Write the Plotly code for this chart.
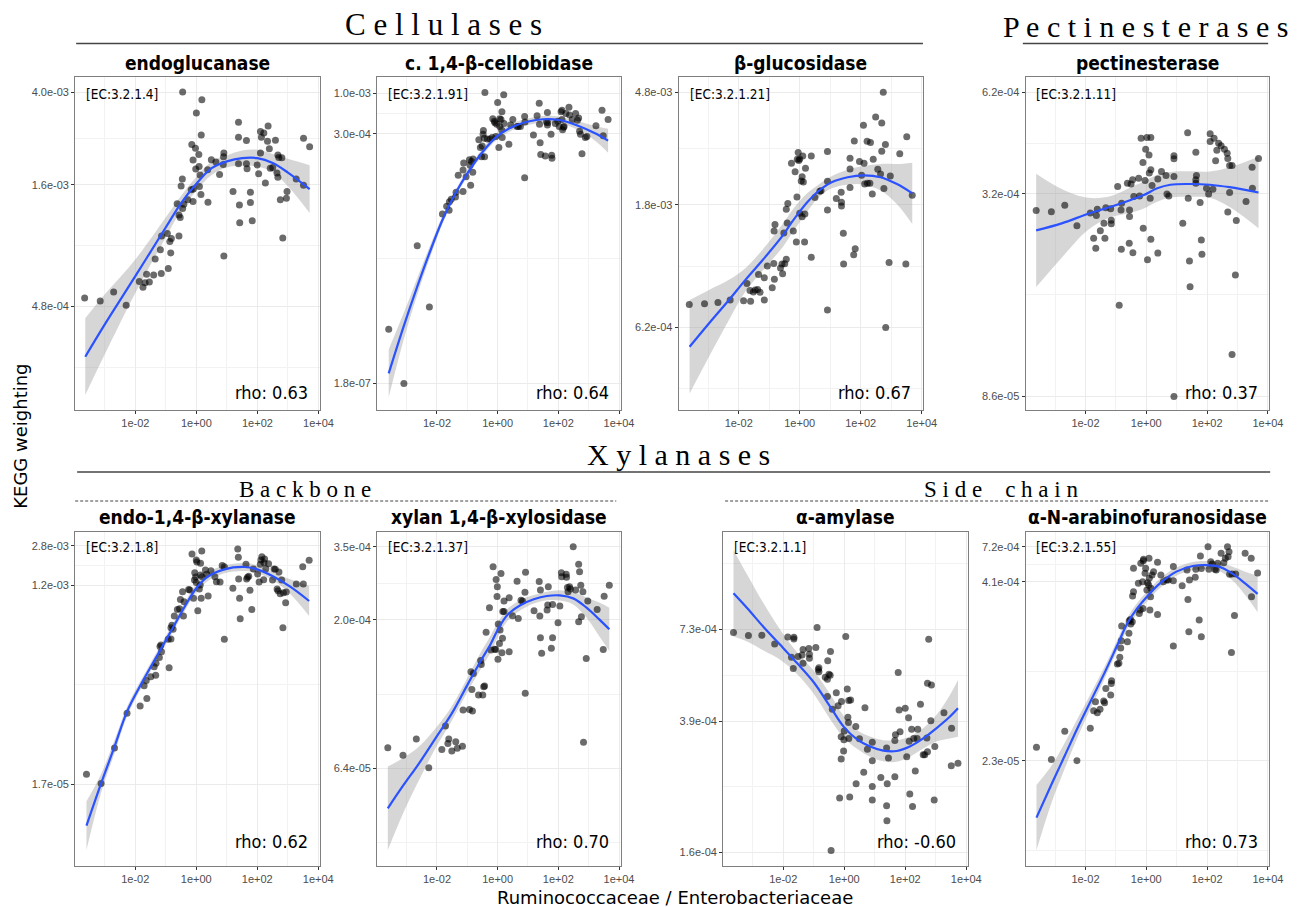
import math
import plotly.graph_objects as go

W, H = 1298, 907

# ------------------------------------------------------------------
# DATA  (x = log10 Ruminococcaceae/Enterobacteriaceae, y = log10 KEGG weighting)
# ------------------------------------------------------------------
x_ticks = [1e-2, 1e0, 1e2, 1e4]
x_ticktext = ["1e-02", "1e+00", "1e+02", "1e+04"]

# --- endoglucanase
endo_x = [-3.66,-3.15,-2.71,-2.30,-1.87,-1.75,-1.68,-1.54,-1.63,-1.40,-1.15,-1.35,-1.18,-0.92,-0.84,-1.14,-0.95,-0.87,-0.82,-0.57,-0.63,-0.57,-0.53,-0.45,-0.41,-0.50,-0.46,-0.28,-0.17,-0.11,-0.10,-0.15,-0.11,-0.03,0.00,0.16,0.18,-0.45,-0.02,0.08,0.09,0.12,0.10,0.15,0.38,0.37,0.49,0.64,0.76,0.88,0.89,0.90,0.90,1.20,1.38,1.38,1.41,1.42,1.38,1.64,1.64,1.66,1.77,1.77,1.83,1.99,2.04,2.10,2.10,2.13,2.21,2.26,2.35,2.33,2.39,2.42,2.50,2.59,2.67,2.70,2.80,2.64,2.67,2.75,2.95,2.97,2.83,3.27,3.51,3.51,3.71]
endo_y = [-3.283,-3.296,-3.257,-3.314,-3.212,-3.237,-3.217,-3.214,-3.181,-3.184,-3.178,-3.115,-3.076,-3.156,-3.089,-3.016,-3.006,-3.040,-3.027,-3.016,-2.878,-2.926,-2.937,-2.898,-2.880,-2.802,-2.772,-2.861,-2.818,-2.868,-2.815,-2.623,-2.690,-2.639,-2.488,-2.582,-2.431,-2.398,-2.729,-2.666,-2.718,-2.754,-2.804,-2.838,-2.871,-2.732,-2.689,-2.698,-2.752,-2.709,-2.676,-2.660,-3.102,-2.825,-2.528,-2.592,-2.883,-2.960,-2.706,-2.606,-2.706,-2.728,-2.828,-2.873,-2.951,-2.711,-2.749,-2.660,-2.567,-2.592,-2.574,-2.789,-2.544,-2.609,-2.642,-2.725,-2.722,-2.605,-2.668,-2.679,-2.680,-2.746,-2.764,-2.861,-2.854,-2.825,-3.025,-2.772,-2.798,-2.596,-2.633]
endo_fit_x = [-3.64,-3.0,-2.0,-1.0,-0.5,0.0,0.5,1.0,1.5,2.0,2.5,3.0,3.71]
endo_fit_y = [-3.535,-3.396,-3.189,-2.979,-2.875,-2.792,-2.725,-2.696,-2.682,-2.682,-2.703,-2.744,-2.815]
endo_fit_se = [0.165,0.129,0.072,0.043,0.032,0.029,0.029,0.026,0.033,0.036,0.039,0.059,0.103]
endo_yticks = [4.0e-3, 1.6e-3, 4.8e-4]

# --- c. 1,4-beta-cellobidase
cello_x = [-3.59,-3.09,-2.65,-2.25,-1.82,-1.68,-1.60,-1.59,-1.53,-1.39,-1.37,-1.30,-1.14,-1.14,-1.12,-1.04,-0.93,-0.91,-0.89,-0.86,-0.82,-0.81,-0.62,-0.57,-0.53,-0.51,-0.48,-0.47,-0.44,-0.43,-0.42,-0.34,-0.25,-0.18,-0.16,-0.11,-0.09,-0.06,-0.03,0.00,0.04,0.07,0.07,0.11,0.13,0.14,0.15,0.20,0.21,0.37,0.43,0.50,0.64,0.68,0.75,0.89,0.89,0.90,1.18,1.30,1.37,1.38,1.40,1.42,1.57,1.61,1.64,1.64,1.65,1.76,1.78,1.79,1.90,1.98,2.03,2.09,2.12,2.12,2.14,2.17,2.19,2.25,2.35,2.37,2.46,2.57,2.63,2.67,2.70,2.73,2.78,2.89,2.94,3.24,3.44,3.48,3.64]
cello_y = [-6.05,-6.75,-4.97,-5.76,-4.56,-4.46,-4.51,-4.40,-4.37,-4.34,-4.28,-4.06,-4.27,-3.99,-3.90,-4.08,-3.86,-3.93,-4.19,-3.88,-4.02,-3.85,-3.60,-3.70,-3.82,-3.68,-3.53,-3.48,-3.58,-3.82,-2.99,-3.59,-3.59,-3.57,-3.33,-3.36,-3.38,-3.56,-3.40,-3.12,-3.70,-3.33,-3.43,-3.34,-3.47,-3.24,-3.57,-3.02,-3.39,-3.66,-3.41,-3.34,-3.43,-3.43,-3.43,-4.09,-3.30,-3.37,-3.54,-3.29,-3.13,-3.40,-3.64,-3.79,-3.81,-3.37,-3.25,-3.41,-3.38,-3.53,-3.80,-3.84,-3.39,-3.36,-3.43,-3.24,-3.22,-3.34,-3.47,-3.44,-3.43,-3.26,-3.18,-3.28,-3.34,-3.26,-3.35,-3.32,-3.49,-3.53,-3.78,-3.57,-3.56,-3.42,-3.22,-3.55,-3.34]
cello_fit_x = [-3.59,-3.10,-2.65,-2.25,-1.82,-1.39,-0.96,-0.53,0.00,0.64,1.50,2.03,2.67,3.21,3.64]
cello_fit_y = [-6.618,-6.015,-5.498,-5.067,-4.637,-4.292,-4.012,-3.775,-3.551,-3.409,-3.336,-3.345,-3.422,-3.517,-3.612]
cello_fit_se = [0.31,0.172,0.108,0.078,0.052,0.043,0.043,0.043,0.043,0.043,0.043,0.043,0.056,0.095,0.155]
cello_yticks = [1.0e-3, 3.0e-4, 1.8e-7]

# --- beta-glucosidase
bglu_x = [-3.62,-3.12,-2.68,-2.28,-1.84,-1.73,-1.63,-1.61,-1.52,-1.46,-1.38,-1.35,-1.30,-1.16,-1.16,-1.06,-0.90,-0.85,-0.83,-0.84,-0.81,-0.63,-0.58,-0.56,-0.52,-0.49,-0.44,-0.44,-0.41,-0.39,-0.27,-0.21,-0.15,-0.11,-0.09,-0.08,-0.05,-0.03,0.00,0.00,0.05,0.08,0.10,0.12,0.16,0.17,0.19,0.08,0.38,0.38,0.50,0.66,0.70,0.91,0.91,0.91,0.91,1.20,1.36,1.37,1.37,1.43,1.44,1.65,1.65,1.65,1.77,1.79,1.82,1.96,2.03,2.09,2.11,2.13,2.21,2.22,2.30,2.32,2.38,2.41,2.49,2.56,2.65,2.69,2.69,2.74,2.76,2.81,2.82,2.93,2.97,3.28,3.48,3.51,3.69]
bglu_y = [-3.121,-3.118,-3.114,-3.104,-3.107,-3.042,-3.068,-3.109,-3.074,-3.066,-3.064,-3.008,-3.075,-3.104,-3.020,-2.976,-3.058,-2.966,-3.026,-2.843,-2.819,-2.983,-2.968,-3.005,-2.851,-2.967,-2.950,-2.761,-2.813,-2.739,-2.587,-2.843,-2.619,-2.885,-2.715,-2.572,-2.547,-2.577,-2.571,-2.776,-2.654,-2.638,-2.560,-2.658,-2.885,-2.779,-2.606,-2.789,-2.560,-2.943,-2.717,-2.693,-2.691,-2.543,-2.764,-2.655,-3.142,-2.720,-2.697,-2.735,-2.749,-2.852,-2.968,-2.609,-2.679,-2.568,-2.933,-2.503,-2.910,-2.581,-2.633,-2.444,-2.587,-2.666,-2.504,-2.663,-2.663,-2.509,-2.703,-2.572,-2.412,-2.610,-2.628,-2.435,-2.542,-2.319,-2.683,-2.516,-3.208,-2.962,-2.635,-2.551,-2.968,-2.487,-2.708]
bglu_fit_x = [-3.61,-2.97,-2.32,-1.78,-1.14,-0.54,-0.27,0.00,0.27,0.59,1.03,1.57,2.11,2.65,3.19,3.69]
bglu_fit_y = [-3.281,-3.192,-3.104,-3.028,-2.943,-2.858,-2.812,-2.770,-2.732,-2.695,-2.660,-2.640,-2.633,-2.640,-2.666,-2.701]
bglu_fit_se = [0.177,0.126,0.076,0.044,0.040,0.044,0.043,0.040,0.034,0.025,0.023,0.028,0.035,0.050,0.076,0.116]
bglu_yticks = [4.8e-3, 1.8e-3, 6.2e-4]

# --- pectinesterase
pect_x = [-3.62,-3.12,-2.68,-2.28,-1.84,-1.73,-1.66,-1.64,-1.61,-1.51,-1.39,-1.36,-1.33,-1.17,-1.15,-1.15,-0.94,-0.89,-0.83,-0.82,-0.81,-0.62,-0.56,-0.55,-0.55,-0.50,-0.45,-0.44,-0.41,-0.25,-0.22,-0.17,-0.11,-0.10,-0.04,-0.02,0.02,0.04,0.09,0.10,0.13,0.15,0.15,0.15,0.19,0.38,0.38,0.50,0.65,0.68,0.74,0.91,0.91,0.91,0.91,1.20,1.36,1.38,1.42,1.44,1.63,1.63,1.63,1.65,1.77,1.81,1.83,1.98,2.05,2.10,2.10,2.19,2.23,2.28,2.32,2.38,2.46,2.57,2.66,2.68,2.68,2.74,2.74,2.82,2.82,2.93,2.96,3.28,3.48,3.49,3.69]
pect_y = [-3.542,-3.545,-3.527,-3.585,-3.549,-3.620,-3.648,-3.556,-3.538,-3.599,-3.578,-3.620,-3.534,-3.537,-3.569,-3.579,-3.474,-3.809,-3.540,-3.651,-3.521,-3.465,-3.634,-3.540,-3.559,-3.467,-3.455,-3.661,-3.502,-3.451,-3.501,-3.338,-3.406,-3.592,-3.457,-3.369,-3.336,-3.681,-3.385,-3.436,-3.507,-3.336,-3.427,-3.623,-3.471,-3.453,-3.662,-3.432,-3.443,-3.495,-3.501,-3.387,-3.396,-3.446,-4.067,-3.578,-3.322,-3.507,-3.684,-3.757,-3.377,-3.455,-3.465,-3.443,-3.519,-3.625,-3.665,-3.479,-3.495,-3.325,-3.347,-3.482,-3.338,-3.401,-3.372,-3.352,-3.359,-3.369,-3.380,-3.395,-3.546,-3.491,-3.415,-3.415,-3.948,-3.724,-3.570,-3.516,-3.420,-3.479,-3.395]
pect_fit_x = [-3.62,-2.78,-1.91,-1.16,-0.51,-0.08,0.36,0.79,1.44,2.09,2.74,3.69]
pect_fit_y = [-3.598,-3.578,-3.551,-3.531,-3.512,-3.498,-3.479,-3.469,-3.467,-3.469,-3.476,-3.491]
pect_fit_se = [0.160,0.097,0.045,0.030,0.036,0.038,0.038,0.036,0.036,0.037,0.056,0.101]
pect_yticks = [6.2e-4, 3.2e-4, 8.6e-5]

# --- endo-1,4-beta-xylanase
xyl_x = [-3.60,-3.12,-2.68,-2.27,-1.84,-1.71,-1.64,-1.62,-1.49,-1.38,-1.33,-1.32,-1.21,-1.19,-1.16,-1.14,-0.92,-0.89,-0.83,-0.83,-0.80,-0.76,-0.72,-0.62,-0.55,-0.52,-0.45,-0.42,-0.40,-0.25,-0.21,-0.14,-0.09,-0.06,-0.05,-0.02,0.00,0.00,0.02,0.05,0.10,0.13,0.14,0.14,0.16,0.18,0.19,0.30,0.34,0.39,0.48,0.61,0.66,0.78,0.85,0.92,0.92,1.20,1.36,1.38,1.39,1.42,1.44,1.63,1.65,1.68,1.72,1.76,1.82,1.87,2.01,2.06,2.10,2.12,2.15,2.21,2.22,2.24,2.28,2.37,2.50,2.55,2.59,2.65,2.68,2.71,2.75,2.80,2.84,2.86,2.93,2.95,3.28,3.49,3.51,3.70]
xyl_y = [-4.678,-4.762,-4.433,-4.111,-4.043,-3.854,-3.807,-3.972,-3.770,-3.677,-3.758,-3.646,-3.591,-3.491,-3.476,-3.538,-3.423,-3.687,-3.420,-3.315,-3.293,-3.330,-3.206,-3.145,-3.138,-3.052,-2.980,-3.206,-3.073,-2.959,-2.965,-2.630,-3.042,-2.872,-2.804,-2.844,-2.894,-2.686,-2.705,-3.157,-2.956,-2.918,-2.825,-2.717,-3.042,-2.602,-2.841,-2.779,-2.819,-3.021,-2.785,-2.841,-2.887,-2.890,-2.736,-3.423,-2.748,-2.949,-2.584,-2.661,-2.863,-3.042,-3.231,-2.726,-2.863,-2.847,-2.838,-2.968,-3.145,-2.770,-2.816,-2.890,-2.726,-2.686,-2.655,-2.869,-2.711,-2.677,-2.767,-2.720,-2.872,-2.770,-2.773,-2.956,-2.971,-2.798,-2.999,-2.872,-3.315,-2.990,-3.083,-2.983,-2.909,-2.748,-2.909,-2.689]
xyl_fit_x = [-3.60,-3.12,-2.68,-2.27,-1.78,-1.24,-0.81,-0.38,0.00,0.38,0.92,1.57,2.00,2.54,3.08,3.70]
xyl_fit_y = [-5.155,-4.762,-4.421,-4.095,-3.825,-3.553,-3.337,-3.120,-2.949,-2.841,-2.773,-2.751,-2.773,-2.841,-2.934,-3.067]
xyl_fit_se = [0.226,0.087,0.062,0.046,0.040,0.040,0.040,0.040,0.040,0.040,0.037,0.037,0.037,0.037,0.068,0.139]
xyl_yticks = [2.8e-3, 1.2e-3, 1.7e-5]

# --- xylan 1,4-beta-xylosidase
xylo_x = [-3.62,-3.12,-2.68,-2.27,-1.84,-1.72,-1.64,-1.61,-1.51,-1.38,-1.33,-1.16,-1.14,-0.93,-0.85,-0.83,-0.88,-0.80,-0.63,-0.56,-0.54,-0.49,-0.46,-0.43,-0.38,-0.27,-0.22,-0.15,-0.10,-0.06,-0.05,-0.02,-0.01,0.01,0.02,0.06,0.08,0.11,0.14,0.16,0.17,0.21,0.21,0.38,0.38,0.49,0.64,0.68,0.77,0.82,0.90,0.91,0.92,1.20,1.37,1.39,1.41,1.41,1.45,1.63,1.65,1.67,1.77,1.81,1.81,1.99,2.05,2.10,2.11,2.26,2.27,2.30,2.32,2.37,2.40,2.49,2.57,2.67,2.70,2.74,2.67,2.76,2.81,2.83,2.92,2.97,3.28,3.48,3.51,3.68]
xylo_y = [-4.125,-4.150,-4.096,-4.192,-4.131,-4.053,-4.111,-4.096,-4.136,-4.105,-4.127,-4.120,-4.000,-3.998,-3.931,-4.003,-3.872,-3.878,-3.950,-3.835,-3.848,-3.950,-3.922,-3.920,-3.741,-3.659,-3.800,-3.523,-3.797,-3.798,-3.565,-3.622,-3.589,-3.831,-3.713,-3.778,-3.733,-3.545,-3.809,-3.761,-3.672,-3.672,-3.637,-3.806,-3.626,-3.686,-3.571,-3.695,-3.634,-3.637,-3.608,-3.944,-3.541,-3.669,-3.572,-3.687,-3.759,-3.600,-3.811,-3.667,-3.650,-3.589,-3.794,-3.759,-3.648,-3.709,-3.653,-3.543,-3.556,-3.548,-3.558,-3.592,-3.606,-3.589,-3.597,-3.456,-3.600,-3.514,-3.539,-3.584,-3.706,-3.689,-3.606,-4.107,-3.828,-3.637,-3.665,-3.798,-3.621,-3.584]
xylo_fit_x = [-3.62,-3.14,-2.59,-2.05,-1.51,-0.97,-0.54,-0.22,0.00,0.32,0.76,1.19,1.62,2.05,2.49,2.92,3.35,3.68]
xylo_fit_y = [-4.327,-4.255,-4.177,-4.094,-4.011,-3.911,-3.833,-3.778,-3.733,-3.683,-3.650,-3.631,-3.620,-3.618,-3.628,-3.658,-3.698,-3.731]
xylo_fit_se = [0.139,0.094,0.056,0.033,0.024,0.024,0.028,0.028,0.024,0.020,0.017,0.014,0.014,0.017,0.020,0.033,0.056,0.072]
xylo_yticks = [3.5e-4, 2.0e-4, 6.4e-5]

# --- alpha-amylase
amy_x = [-3.63,-3.14,-2.70,-2.28,-1.85,-1.65,-1.65,-1.73,-1.67,-1.51,-1.38,-1.35,-1.35,-1.16,-1.14,-1.14,-0.93,-0.89,-0.85,-0.83,-0.83,-0.62,-0.55,-0.54,-0.55,-0.50,-0.45,-0.46,-0.39,-0.26,-0.20,-0.15,-0.10,-0.10,-0.09,-0.02,0.00,-0.01,0.05,0.10,0.12,0.14,0.15,0.15,0.18,0.21,0.38,0.39,0.50,0.68,0.76,0.64,0.92,0.92,0.92,0.92,1.20,1.39,1.39,1.40,1.41,1.45,1.66,1.66,1.68,1.77,1.83,1.80,2.00,2.05,2.11,2.13,2.15,2.21,2.24,2.28,2.33,2.39,2.41,2.50,2.59,2.64,2.71,2.73,2.73,2.77,2.84,2.86,2.95,2.97,3.27,3.51,3.52,3.73,-0.43]
amy_y = [-3.147,-3.156,-3.155,-3.181,-3.160,-3.161,-3.166,-3.220,-3.253,-3.218,-3.213,-3.197,-3.238,-3.194,-3.211,-3.223,-3.191,-3.132,-3.256,-3.251,-3.263,-3.279,-3.285,-3.230,-3.336,-3.270,-3.203,-3.273,-3.374,-3.325,-3.363,-3.636,-3.455,-3.521,-3.351,-3.497,-3.438,-3.464,-3.159,-3.314,-3.397,-3.413,-3.348,-3.460,-3.633,-3.346,-3.425,-3.594,-3.461,-3.369,-3.492,-3.560,-3.471,-3.526,-3.602,-3.642,-3.575,-3.488,-3.659,-3.703,-3.594,-3.518,-3.466,-3.573,-3.449,-3.265,-3.440,-3.376,-3.371,-3.514,-3.399,-3.468,-3.624,-3.433,-3.661,-3.460,-3.556,-3.460,-3.433,-3.359,-3.508,-3.508,-3.459,-3.297,-3.499,-3.167,-3.408,-3.302,-3.642,-3.484,-3.384,-3.541,-3.430,-3.533,-3.791]
amy_fit_x = [-3.63,-3.17,-2.63,-2.09,-1.54,-1.00,-0.46,-0.02,0.41,0.85,1.28,1.72,2.15,2.59,3.02,3.46,3.73]
amy_fit_y = [-3.031,-3.076,-3.132,-3.184,-3.238,-3.294,-3.366,-3.425,-3.462,-3.484,-3.496,-3.497,-3.484,-3.460,-3.430,-3.396,-3.371]
amy_fit_se = [0.128,0.098,0.069,0.044,0.032,0.034,0.037,0.032,0.028,0.030,0.031,0.032,0.030,0.030,0.039,0.064,0.084]
amy_yticks = [7.3e-4, 3.9e-4, 1.6e-4]

# --- alpha-N-arabinofuranosidase
arab_x = [-3.61,-3.12,-2.68,-2.28,-1.84,-1.73,-1.67,-1.61,-1.52,-1.40,-1.37,-1.33,-1.17,-1.15,-1.14,-0.95,-0.90,-0.87,-0.84,-0.82,-0.81,-0.62,-0.57,-0.56,-0.52,-0.51,-0.46,-0.45,-0.42,-0.42,-0.26,-0.23,-0.20,-0.18,-0.12,-0.11,-0.10,-0.09,-0.04,-0.02,0.02,0.04,0.08,0.09,0.10,0.12,0.14,0.15,0.19,0.24,0.37,0.37,0.48,0.56,0.67,0.72,0.89,0.89,0.89,1.18,1.34,1.37,1.40,1.42,1.61,1.63,1.74,1.78,1.81,1.81,2.03,2.06,2.12,2.17,2.26,2.30,2.35,2.46,2.55,2.60,2.67,2.69,2.72,2.74,2.80,2.82,2.90,2.94,3.25,3.45,3.46,3.66]
arab_y = [-4.545,-4.629,-4.433,-4.638,-4.412,-4.289,-4.226,-4.303,-4.279,-4.221,-4.233,-4.133,-4.179,-4.098,-4.079,-3.963,-3.958,-3.916,-3.851,-3.800,-3.697,-3.807,-3.748,-3.660,-3.651,-3.683,-3.667,-3.487,-3.457,-3.294,-3.399,-3.609,-3.585,-3.259,-3.387,-3.574,-3.241,-3.231,-3.329,-3.294,-3.446,-3.394,-3.411,-3.224,-3.364,-3.585,-3.492,-3.434,-3.341,-3.317,-3.616,-3.252,-3.341,-3.387,-3.376,-3.376,-3.282,-3.380,-3.837,-3.415,-3.306,-3.511,-3.737,-3.376,-3.357,-3.301,-3.655,-3.208,-3.772,-3.296,-3.143,-3.301,-3.248,-3.264,-3.301,-3.306,-3.259,-3.189,-3.255,-3.224,-3.143,-3.213,-3.178,-3.336,-3.883,-3.334,-3.623,-3.334,-3.189,-3.224,-3.492,-3.327]
arab_fit_x = [-3.61,-3.10,-2.67,-2.24,-1.81,-1.38,-0.95,-0.62,-0.30,0.02,0.45,0.99,1.53,1.96,2.39,2.82,3.25,3.66]
arab_fit_y = [-5.036,-4.796,-4.599,-4.401,-4.214,-4.028,-3.830,-3.678,-3.574,-3.492,-3.399,-3.317,-3.278,-3.271,-3.282,-3.329,-3.399,-3.473]
arab_fit_se = [0.228,0.128,0.089,0.065,0.051,0.042,0.037,0.037,0.037,0.035,0.033,0.028,0.028,0.028,0.030,0.047,0.082,0.128]
arab_yticks = [7.2e-4, 4.1e-4, 2.3e-5]

titles = ["endoglucanase", "c. 1,4-β-cellobidase", "β-glucosidase", "pectinesterase",
          "endo-1,4-β-xylanase", "xylan 1,4-β-xylosidase", "α-amylase", "α-N-arabinofuranosidase"]
ec_labels = ["[EC:3.2.1.4]", "[EC:3.2.1.91]", "[EC:3.2.1.21]", "[EC:3.2.1.11]",
             "[EC:3.2.1.8]", "[EC:3.2.1.37]", "[EC:3.2.1.1]", "[EC:3.2.1.55]"]
rho_labels = ["rho: 0.63", "rho: 0.64", "rho: 0.67", "rho: 0.37",
              "rho: 0.62", "rho: 0.70", "rho: -0.60", "rho: 0.73"]

# ------------------------------------------------------------------
# LAYOUT / STYLE
# ------------------------------------------------------------------
NARROW = "Liberation Sans Narrow, Arial Narrow, DejaVu Sans Condensed, Roboto, sans-serif"
SERIF = "Liberation Serif, DejaVu Serif, serif"
SANS = "DejaVu Sans, Verdana, sans-serif"

# panel boxes in pixels: (left, right, top, bottom)
boxes = [
    (76, 323.5, 76.7, 410), (381.3, 627.3, 76.7, 410), (686, 933.3, 76.7, 410), (1036.7, 1283.3, 76.7, 410),
    (76, 323.3, 531.7, 865.7), (381.3, 627.3, 531.7, 865.7), (731, 978.3, 531.7, 865.7), (1036.7, 1283.3, 531.7, 865.7),
]
y_ranges = [[-3.764, -2.332], [-7.092, -2.786], [-3.520, -2.260], [-4.105, -3.164],
            [-5.527, -2.423], [-4.518, -3.406], [-3.836, -2.849], [-5.372, -3.038]]
x_range = [-3.97, 4.05]

series = [
    (endo_x, endo_y, endo_fit_x, endo_fit_y, endo_fit_se, endo_yticks),
    (cello_x, cello_y, cello_fit_x, cello_fit_y, cello_fit_se, cello_yticks),
    (bglu_x, bglu_y, bglu_fit_x, bglu_fit_y, bglu_fit_se, bglu_yticks),
    (pect_x, pect_y, pect_fit_x, pect_fit_y, pect_fit_se, pect_yticks),
    (xyl_x, xyl_y, xyl_fit_x, xyl_fit_y, xyl_fit_se, xyl_yticks),
    (xylo_x, xylo_y, xylo_fit_x, xylo_fit_y, xylo_fit_se, xylo_yticks),
    (amy_x, amy_y, amy_fit_x, amy_fit_y, amy_fit_se, amy_yticks),
    (arab_x, arab_y, arab_fit_x, arab_fit_y, arab_fit_se, arab_yticks),
]


def px_x(v):
    return v / W


def px_y(v):
    return 1 - v / H


def minor_breaks(ticks, rng):
    b = sorted(math.log10(t) for t in ticks)
    bd = b[1] - b[0]
    ext = [b[0] - bd] + b + [b[-1] + bd]
    mids = [(ext[i] + ext[i + 1]) / 2 for i in range(len(ext) - 1)]
    return [10 ** m for m in mids if rng[0] < m < rng[1]]


x_minor = [10 ** v for v in (-3, -1, 1, 3)]

fig = go.Figure()
layout = dict(
    width=W, height=H, margin=dict(l=0, r=0, t=0, b=0),
    paper_bgcolor="white", plot_bgcolor="white", showlegend=False,
)
annotations = []
shapes = []

AX_COMMON = dict(
    showline=True, mirror=True, linecolor="#7f7f7f", linewidth=1,
    ticks="outside", ticklen=3, tickcolor="#333333", tickwidth=1,
    tickfont=dict(family="Liberation Sans, Arial, sans-serif", size=11, color="#4d4d4d"),
    showgrid=True, gridcolor="#ebebeb", gridwidth=1, zeroline=False,
)

for i, (sx, sy, fx, fy, se, yt) in enumerate(series):
    n = min(len(sx), len(sy))
    m = min(len(fx), len(fy), len(se))
    k = "" if i == 0 else str(i + 1)
    xa, ya = "x" + k, "y" + k
    l, r, t, b = boxes[i]

    X = [10 ** v for v in sx[:n]]
    Y = [10 ** v for v in sy[:n]]
    FX = [10 ** v for v in fx[:m]]
    FY = [10 ** v for v in fy[:m]]
    UP = [10 ** (fy[j] + se[j]) for j in range(m)]
    LO = [10 ** (fy[j] - se[j]) for j in range(m)]

    fig.add_trace(go.Scatter(x=FX, y=UP, mode="lines", line=dict(width=0, shape="spline"),
                             hoverinfo="skip", xaxis=xa, yaxis=ya))
    fig.add_trace(go.Scatter(x=FX, y=LO, mode="lines", line=dict(width=0, shape="spline"),
                             fill="tonexty", fillcolor="rgba(153,153,153,0.4)",
                             hoverinfo="skip", xaxis=xa, yaxis=ya))
    fig.add_trace(go.Scatter(x=X, y=Y, mode="markers",
                             marker=dict(size=7, color="rgba(0,0,0,0.58)", line=dict(width=0)),
                             xaxis=xa, yaxis=ya))
    fig.add_trace(go.Scatter(x=FX, y=FY, mode="lines",
                             line=dict(color="#2a52ff", width=2.2, shape="spline"),
                             xaxis=xa, yaxis=ya))

    layout["xaxis" + k] = dict(
        AX_COMMON, type="log", range=x_range, domain=[px_x(l), px_x(r)], anchor=ya,
        tickmode="array", tickvals=x_ticks, ticktext=x_ticktext,
        minor=dict(tickmode="array", tickvals=x_minor, showgrid=True,
                   gridcolor="#f2f2f2", gridwidth=0.6, ticks=""),
    )
    layout["yaxis" + k] = dict(
        AX_COMMON, type="log", range=y_ranges[i], domain=[px_y(b), px_y(t)], anchor=xa,
        tickmode="array", tickvals=yt, ticktext=["{:.1e}".format(v) for v in yt],
        minor=dict(tickmode="array", tickvals=minor_breaks(yt, y_ranges[i]), showgrid=True,
                   gridcolor="#f2f2f2", gridwidth=0.6, ticks=""),
    )

    # panel title
    ty = 63 if i < 4 else 517
    annotations.append(dict(text="<b>" + titles[i] + "</b>", xref="paper", yref="paper",
                            x=px_x((l + r) / 2), y=px_y(ty), xanchor="center", yanchor="middle",
                            showarrow=False, font=dict(family=NARROW, size=19, color="black")))
    # EC label
    annotations.append(dict(text=ec_labels[i], xref="paper", yref="paper",
                            x=px_x(l + 9), y=px_y(t + 17 if i < 4 else t + 15),
                            xanchor="left", yanchor="middle", showarrow=False,
                            font=dict(family=NARROW, size=13.5, color="black")))
    # rho label
    rb = b - (5 if i < 4 else 12)
    annotations.append(dict(text=rho_labels[i], xref="paper", yref="paper",
                            x=px_x(r - 10), y=px_y(rb), xanchor="right", yanchor="bottom",
                            showarrow=False, font=dict(family=NARROW, size=18, color="black")))

# group headings
def spaced(s):
    return " ".join(list(s))

heads = [
    ("Cellulases", 448, 25, 31), ("Pectinesterases", 1158, 26, 30), ("Xylanases", 686, 455, 30),
    ("Backbone", 308, 489, 23), ("Side chain", 1012, 489, 23),
]
for txt, cx, cy, fs in heads:
    annotations.append(dict(text=spaced(txt).replace("   ", "    "), xref="paper", yref="paper",
                            x=px_x(cx), y=px_y(cy), xanchor="center", yanchor="middle",
                            showarrow=False, font=dict(family=SERIF, size=fs, color="black")))

lines = [
    (77, 933, 43.5, "solid", 1.6), (1034, 1282, 43.5, "solid", 1.6), (78, 1284, 472, "solid", 1.6),
    (76, 623, 501, "3px,2px", 1), (733, 1284, 501, "3px,2px", 1),
]
for x0, x1, yy, dash, wd in lines:
    shapes.append(dict(type="line", xref="paper", yref="paper",
                       x0=px_x(x0), x1=px_x(x1), y0=px_y(yy), y1=px_y(yy),
                       line=dict(color="#444444", width=wd, dash=dash)))

# axis titles
annotations.append(dict(text="KEGG weighting", xref="paper", yref="paper", x=px_x(20), y=px_y(436),
                        textangle=-90, xanchor="center", yanchor="middle", showarrow=False,
                        font=dict(family=SANS, size=18, color="black")))
annotations.append(dict(text="Ruminococcaceae / Enterobacteriaceae", xref="paper", yref="paper",
                        x=px_x(682), y=px_y(897), xanchor="center", yanchor="middle", showarrow=False,
                        font=dict(family=SANS, size=18, color="black")))

layout["annotations"] = annotations
layout["shapes"] = shapes
fig.update_layout(**layout)
fig.write_html("out.html")
